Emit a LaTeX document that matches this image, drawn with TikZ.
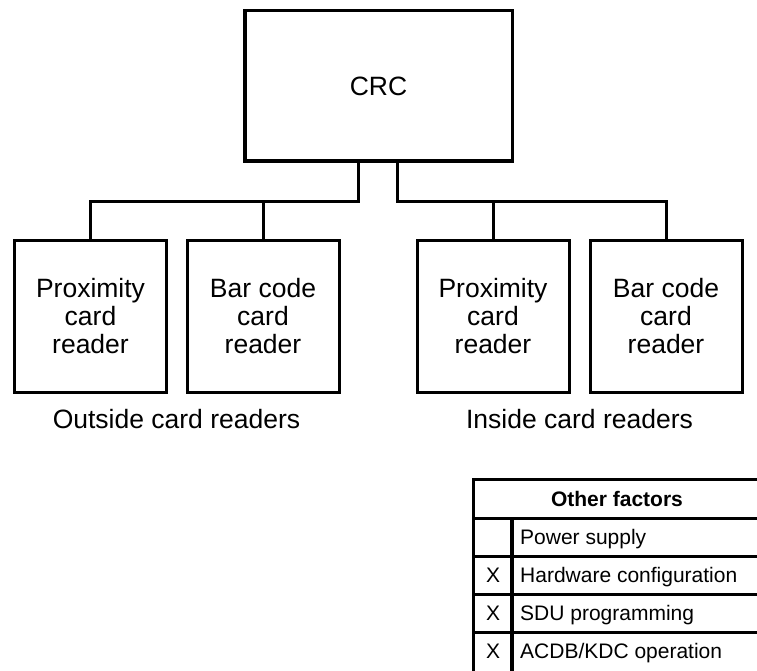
\documentclass[tikz,border=0pt]{standalone}
\usepackage{fontspec}
\setmainfont{Liberation Sans}
\begin{document}
\begin{tikzpicture}[x=1pt,y=-1pt,
  bigtxt/.style={font=\fontsize{26.5}{28}\selectfont},
  smalltxt/.style={font=\fontsize{21}{24}\selectfont},
  reader/.style={draw,line width=3pt,minimum width=152pt,minimum height=152pt,inner sep=0pt,align=center,bigtxt},
  wire/.style={line width=3pt},
  tline/.style={line width=3pt}]
\useasboundingbox (0,0) rectangle (757,671);
% CRC
\node[draw,line width=3.5pt,minimum width=267.5pt,minimum height=150.5pt,inner sep=0pt,bigtxt] (crc) at (378.5,86) {CRC};
% readers
\node[reader] (p1) at (90.5,316.5) {Proximity\\card\\reader};
\node[reader] (b1) at (263,316.5) {Bar code\\card\\reader};
\node[reader] (p2) at (493,316.5) {Proximity\\card\\reader};
\node[reader] (b2) at (666,316.5) {Bar code\\card\\reader};
% junctions
\coordinate (jl) at (358,201);
\coordinate (jr) at (397,201);
\draw[wire] (crc.south -| jl) -- (jl) -- (jl -| p1) -- (p1.north);
\draw[wire] (jl -| b1) -- (b1.north);
\draw[wire] (crc.south -| jr) -- (jr) -- (jr -| b2) -- (b2.north);
\draw[wire] (jr -| p2) -- (p2.north);
% group labels
\node[bigtxt,anchor=base] (outl) at (176.5,428) {Outside card readers};
\node[bigtxt,anchor=base] (inl) at (579.5,428) {Inside card readers};
% table
\draw[tline] (757,479) -- (473,479) -- (473,671);
\draw[tline] (473,518) -- (757,518);
\draw[tline] (473,556) -- (757,556);
\draw[tline] (473,594) -- (757,594);
\draw[tline] (473,632) -- (757,632);
\draw[line width=3.5pt] (512,518) -- (512,671);
\node[smalltxt,font=\fontsize{21}{24}\selectfont\bfseries,anchor=base] (hdr) at (617,506.5) {Other factors};
\node[smalltxt,anchor=base west,inner sep=0pt] (r1) at (520,544) {Power supply};
\node[smalltxt,anchor=base,inner sep=0pt] (x2) at (493,582) {X};
\node[smalltxt,anchor=base west,inner sep=0pt] (r2) at (520,582) {Hardware configuration};
\node[smalltxt,anchor=base,inner sep=0pt] (x3) at (493,620) {X};
\node[smalltxt,anchor=base west,inner sep=0pt] (r3) at (520,620) {SDU programming};
\node[smalltxt,anchor=base,inner sep=0pt] (x4) at (493,658) {X};
\node[smalltxt,anchor=base west,inner sep=0pt] (r4) at (520,658) {ACDB/KDC operation};
\end{tikzpicture}
\end{document}
